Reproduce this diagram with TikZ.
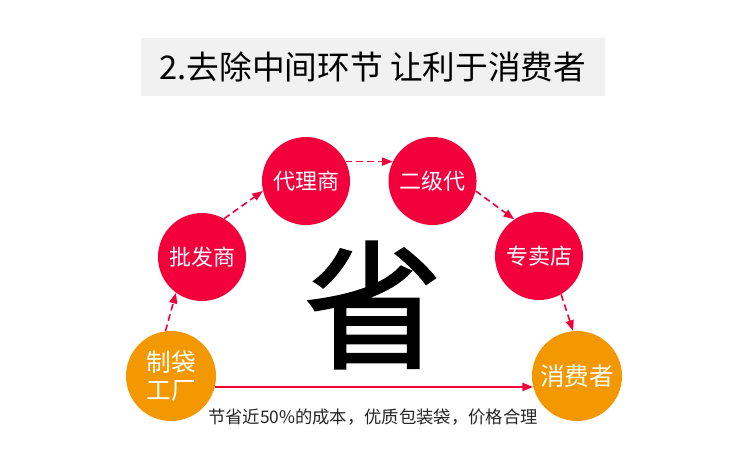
\documentclass[tikz,border=0pt]{standalone}
\usepackage{fontspec}
\setmainfont{Noto Sans CJK SC}
\newfontfamily\heavycjk{Noto Sans CJK SC}[FakeBold=1.5]
\usepackage{tikz}
\usetikzlibrary{arrows.meta,positioning}
\definecolor{hotred}{RGB}{243,0,60}
\definecolor{amber}{RGB}{243,152,0}
\definecolor{titlebg}{RGB}{241,241,241}

\begin{document}
\begin{tikzpicture}[
  x=0.75pt, y=-0.75pt,
  circ/.style={circle, minimum size=66pt, inner sep=0pt, text=white, align=center},
  mid/.style={circ, fill=hotred, font=\fontsize{16.5}{19}\selectfont},
  ends/.style={circ, fill=amber, minimum size=67.5pt, font=\fontsize{18.5}{21}\selectfont},
  arr/.style={-{Triangle[length=8pt, width=6pt]}, hotred, line width=1.5pt},
  dash arr/.style={-{Triangle[length=8pt, width=6pt]}, hotred, line width=1.2pt, dash pattern=on 5pt off 3pt}
]
\useasboundingbox (0,0) rectangle (750,472);
\fill[white] (0,0) rectangle (750,472);
\node[fill=titlebg, minimum width=348pt, minimum height=43.5pt, font=\fontsize{24.5}{26}\selectfont] (title) at (373,67) {2.去除中间环节 让利于消费者};
% the chain of middlemen
\node[ends] (factory) at (171,376) {制袋\\工厂};
\node[mid] (whole) at (202,257) {批发商};
\node[mid] (agent) at (306,181) {代理商};
\node[mid, right=28.5pt of agent] (second) {二级代};
\node[mid] (store) at (539,256) {专卖店};
\node[ends] (buyer) at (577,376) {消费者};
\node[font=\fontsize{104}{104}\heavycjk] (big) at (373,305) {省};
\node[font=\fontsize{13}{15}\selectfont, text=black!85] (caption) at (373,417) {节省近50\%的成本，优质包装袋，价格合理};
\draw[dash arr] (factory.97) -- (whole.234);
\draw[dash arr] (whole.60) -- (agent.193);
\draw[dash arr] (agent.26) -- (second.154);
\draw[dash arr] (second.-13) -- (store.124);
\draw[dash arr] (store.-60) -- (buyer.95);
\draw[arr] (factory.-14) -- (buyer.194);
\end{tikzpicture}
\end{document}
